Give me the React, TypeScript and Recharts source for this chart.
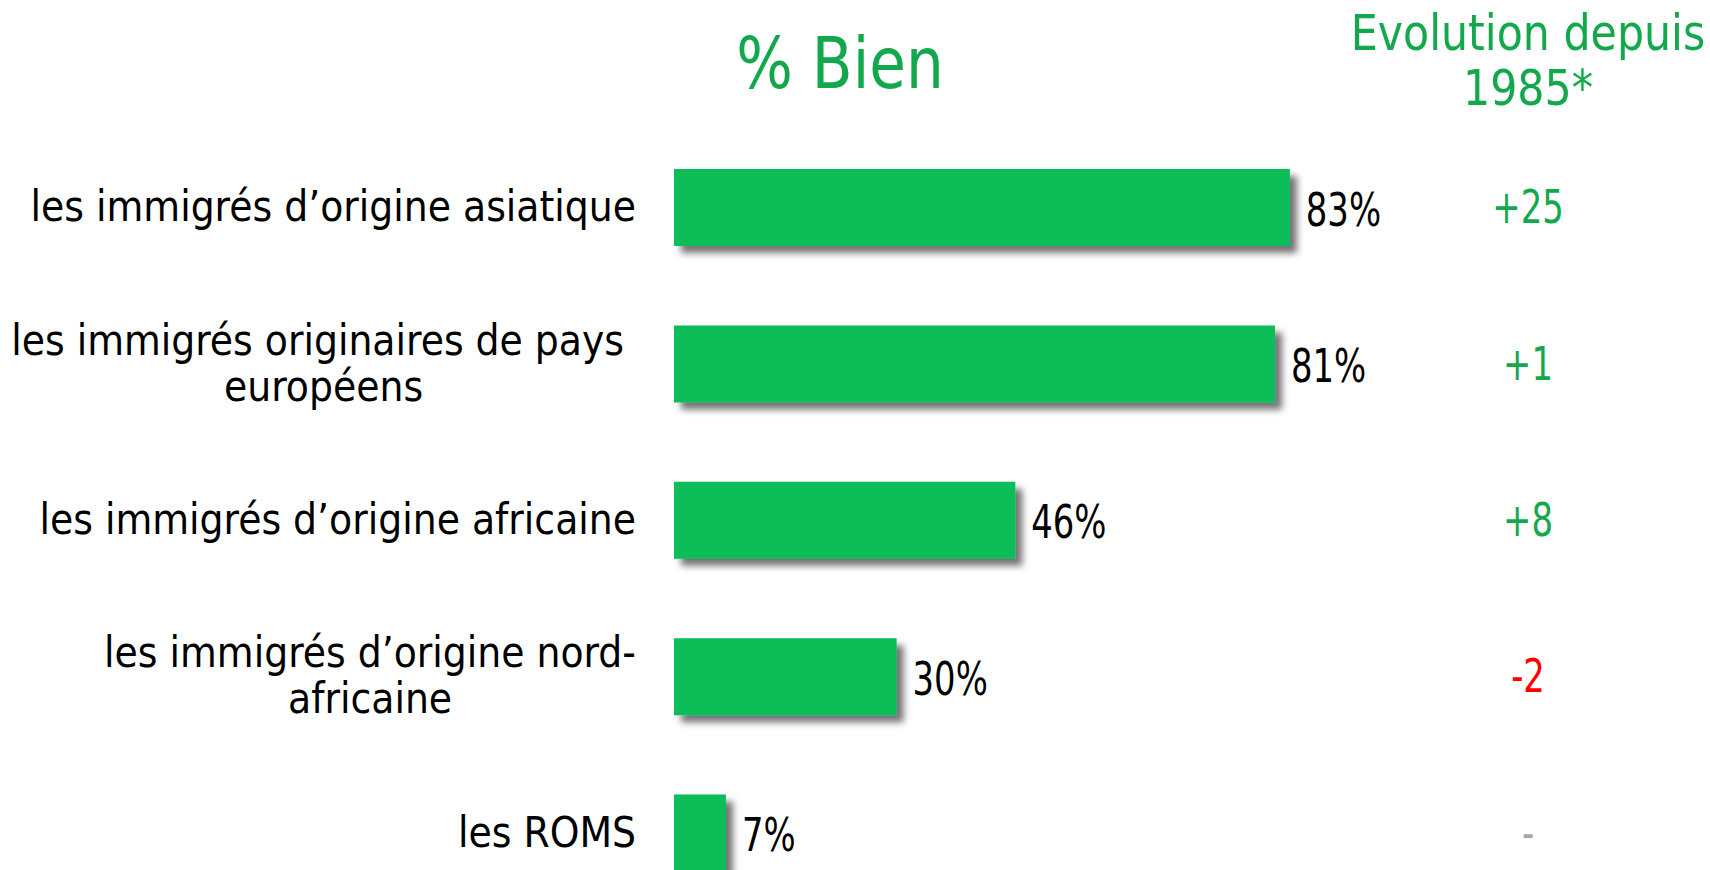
import React from "react";
import { BarChart, Bar, XAxis, YAxis, LabelList, Rectangle } from "recharts";

// categories (line breaks where the original label wraps)
const categories = [
  "les immigrés d’origine asiatique",
  "les immigrés originaires de pays \neuropéens",
  "les immigrés d’origine africaine",
  "les immigrés d’origine nord-\nafricaine",
  "les ROMS",
];
// % Bien
const bienValues = [83, 81, 46, 30, 7];
// evolution since 1985
const evolutionLabels = ["+25", "+1", "+8", "-2", "-"];

const data = categories.map((name, i) => ({
  name,
  bien: bienValues[i],
}));

const FONT = "'DejaVu Sans Condensed', 'DejaVu Sans', sans-serif";
const BAR_GREEN = "#08BD59";
const TEXT_GREEN = "#13A84C";
const LABEL_SIZE = 42;

let ctx: CanvasRenderingContext2D | null = null;
const measure = (s: string, font: string) => {
  if (!ctx) ctx = document.createElement("canvas").getContext("2d");
  if (!ctx) return s.length * 20;
  ctx.font = font;
  return ctx.measureText(s).width;
};

const CategoryTick = (props: any) => {
  const { x, y, payload } = props;
  const lines = String(payload.value).split("\n");
  const widths = lines.map((l) => measure(l, `${LABEL_SIZE}px ${FONT}`));
  const block = Math.max(...widths);
  const cx = x - 38 - block / 2;
  return (
    <text
      textAnchor="middle"
      fontFamily={FONT}
      fontSize={LABEL_SIZE}
      fill="#000"
      style={{ whiteSpace: "pre" }}
    >
      {lines.map((l, i) => (
        <tspan key={i} x={cx} y={y + 14 + (i - (lines.length - 1) / 2) * 46}>
          {l}
        </tspan>
      ))}
    </text>
  );
};

const EvolutionTick = (props: any) => {
  const { x, y, payload } = props;
  const v = evolutionLabels[categories.indexOf(payload.value)] ?? "";
  const color = v.startsWith("+") ? TEXT_GREEN : v.length > 1 ? "#FF0000" : "#A6A6A6";
  return (
    <text
      transform={`translate(${x + 112},${y + 16}) scale(0.8,1)`}
      textAnchor="middle"
      fontFamily={FONT}
      fontSize={47}
      fill={color}
    >
      {v}
    </text>
  );
};

const ValueLabel = (props: any) => {
  const { x, y, width, height, value } = props;
  return (
    <text
      transform={`translate(${x + width + 16},${y + height / 2 + 18}) scale(0.8,1)`}
      fontFamily={FONT}
      fontSize={47}
      fill="#000"
    >
      {value}%
    </text>
  );
};

const ShadowBar = (props: any) => <Rectangle {...props} filter="url(#barShadow)" />;

export default function App() {
  return (
    <div
      style={{
        position: "fixed",
        left: 0,
        top: 0,
        width: 1710,
        height: 870,
        overflow: "hidden",
        background: "#fff",
      }}
    >
      <svg
        width={1710}
        height={870}
        style={{ position: "absolute", left: 0, top: 0, pointerEvents: "none", zIndex: 1 }}
      >
        <defs>
          <filter id="barShadow" filterUnits="userSpaceOnUse" x="0" y="0" width="1710" height="1000">
            <feDropShadow dx="7" dy="7" stdDeviation="3.5" floodColor="#000" floodOpacity="0.55" />
          </filter>
        </defs>
        <text
          transform="translate(840,88) scale(0.92,1)"
          textAnchor="middle"
          fontFamily={FONT}
          fontSize={72}
          fill={TEXT_GREEN}
        >
          % Bien
        </text>
        <text
          transform="translate(1528,50) scale(0.95,1)"
          textAnchor="middle"
          fontFamily={FONT}
          fontSize={50}
          fill={TEXT_GREEN}
        >
          Evolution depuis
        </text>
        <text
          transform="translate(1528,105) scale(0.95,1)"
          textAnchor="middle"
          fontFamily={FONT}
          fontSize={50}
          fill={TEXT_GREEN}
        >
          1985*
        </text>
      </svg>
      <BarChart
        layout="vertical"
        width={1710}
        height={911}
        data={data}
        margin={{ top: 129, right: 0, bottom: 0, left: 0 }}
      >
        <XAxis type="number" domain={[0, 100]} hide />
        <YAxis
          yAxisId="left"
          type="category"
          dataKey="name"
          width={674}
          axisLine={false}
          tickLine={false}
          tickSize={0}
          tickMargin={0}
          interval={0}
          tick={<CategoryTick />}
        />
        <YAxis
          yAxisId="right"
          orientation="right"
          type="category"
          dataKey="name"
          width={294}
          axisLine={false}
          tickLine={false}
          tickSize={0}
          tickMargin={0}
          interval={0}
          tick={<EvolutionTick />}
        />
        <Bar
          yAxisId="left"
          dataKey="bien"
          fill={BAR_GREEN}
          barSize={77}
          shape={<ShadowBar />}
          isAnimationActive={false}
        >
          <LabelList dataKey="bien" content={<ValueLabel />} />
        </Bar>
      </BarChart>
    </div>
  );
}
